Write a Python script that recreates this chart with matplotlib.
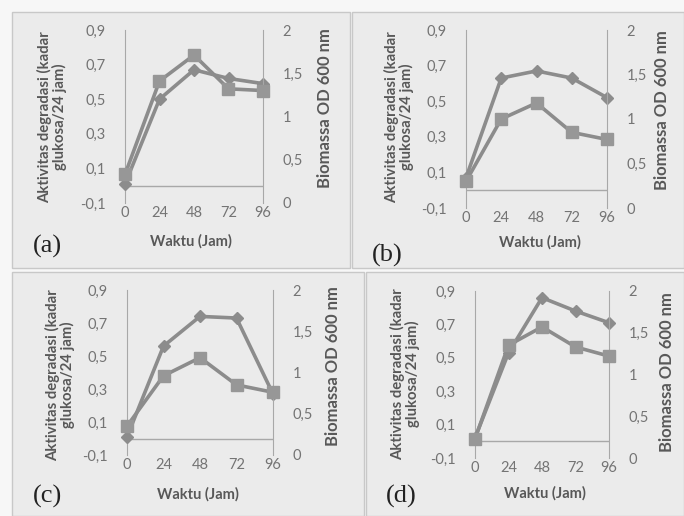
import matplotlib
matplotlib.use("Agg")
import matplotlib.pyplot as plt
from matplotlib.patches import Rectangle

plt.rcParams['font.family'] = ['Lato', 'DejaVu Sans']

waktu = [0, 24, 48, 72, 96]
x_ticks = [0, 24, 48, 72, 96]
left_ticks = [-0.1, 0.1, 0.3, 0.5, 0.7, 0.9]
left_labels = ["-0,1", "0,1", "0,3", "0,5", "0,7", "0,9"]
right_ticks = [0, 0.5, 1, 1.5, 2]
right_labels = ["0", "0,5", "1", "1,5", "2"]

# Aktivitas degradasi (left axis, diamond markers)
aktivitas_a = [0.01, 0.50, 0.67, 0.62, 0.59]
aktivitas_b = [0.07, 0.63, 0.67, 0.63, 0.52]
aktivitas_c = [0.01, 0.56, 0.74, 0.73, 0.27]
aktivitas_d = [0.02, 0.53, 0.86, 0.78, 0.71]
# Biomassa OD 600 nm (right axis, square markers)
biomassa_a = [0.33, 1.41, 1.71, 1.32, 1.30]
biomassa_b = [0.30, 1.00, 1.18, 0.85, 0.77]
biomassa_c = [0.35, 0.96, 1.18, 0.85, 0.76]
biomassa_d = [0.23, 1.35, 1.57, 1.33, 1.22]

panel_letters = ["(a)", "(b)", "(c)", "(d)"]
ylabel_left = "Aktivitas degradasi (kadar\nglukosa/24 jam)"
ylabel_right = "Biomassa OD 600 nm"
xlabel = "Waktu (Jam)"

W, H = 684, 516
fig = plt.figure(figsize=(6.84, 5.16), dpi=100)
fig.patch.set_facecolor("#f7f7f7")

def px_rect(x0, y0, x1, y1):
    return [x0 / W, 1 - y1 / H, (x1 - x0) / W, (y1 - y0) / H]

def ftxt(x, y, s, **kw):
    fig.text(x / W, 1 - y / H, s, **kw)

# panel backgrounds
boxes = [(12, 12, 350, 268), (352, 12, 684, 268), (12, 272, 364, 516), (366, 272, 684, 516)]
for (x0, y0, x1, y1) in boxes:
    fig.patches.append(Rectangle((x0 / W, 1 - y1 / H), (x1 - x0) / W, (y1 - y0) / H,
                                 transform=fig.transFigure, facecolor="#ebebeb",
                                 edgecolor="#c8c8c8", lw=1.0, zorder=-5))

axes_px = [(125, 30, 263, 203), (466, 30, 607, 208), (127, 290, 273, 455), (475, 291, 609, 458)]
letter_px = [(33, 246), (372, 255), (33, 496), (386, 496)]
left_lab_px = [(52, 117), (399, 117), (60, 375), (405, 374)]
right_lab_px = [(325, 108), (662, 110), (333, 366), (667, 372)]
x_lab_px = [(191, 241), (540, 242), (198, 494), (545, 493)]
data = [(aktivitas_a, biomassa_a), (aktivitas_b, biomassa_b),
        (aktivitas_c, biomassa_c), (aktivitas_d, biomassa_d)]

line_col = "#8c8c8c"
tick_col = "#747474"
lab_col = "#585858"

for i, ((x0, y0, x1, y1), (akt, bio)) in enumerate(zip(axes_px, data)):
    ax = fig.add_axes(px_rect(x0, y0, x1, y1))
    ax.set_zorder(2)
    ax.patch.set_alpha(0)
    ax2 = ax.twinx()
    ax2.set_zorder(3)
    ax2.patch.set_alpha(0)
    ax.set_xlim(0, 96)
    ax.set_ylim(-0.1, 0.9)
    ax2.set_ylim(0, 2)
    ax.set_xticks(x_ticks)
    ax.set_xticklabels([str(v) for v in x_ticks])
    ax.set_yticks(left_ticks)
    ax.set_yticklabels(left_labels)
    ax2.set_yticks(right_ticks)
    ax2.set_yticklabels(right_labels)
    for a in (ax, ax2):
        a.tick_params(labelsize=10.5, colors=tick_col, length=0, pad=14)
        for s in a.spines.values():
            s.set_visible(False)
    ax.tick_params(axis='x', pad=2)
    ax.spines['left'].set_visible(True)
    ax.spines['left'].set_color("#a8a8a8")
    ax2.spines['right'].set_visible(True)
    ax2.spines['right'].set_color("#a8a8a8")
    ax.axhline(0, color="#a8a8a8", lw=1.0, zorder=1)
    ax.plot(waktu, akt, color=line_col, lw=2.6, marker='D', ms=6.5,
            mfc=line_col, mec=line_col, clip_on=False, zorder=3)
    ax2.plot(waktu, bio, color=line_col, lw=2.6, marker='s', ms=8.5,
             mfc="#979797", mec="#979797", clip_on=False, zorder=3)
    lx, ly = left_lab_px[i]
    ftxt(lx, ly, ylabel_left, rotation=90, fontsize=10.7, fontweight='bold',
         color=lab_col, ha='center', va='center', linespacing=1.0)
    rx, ry = right_lab_px[i]
    ftxt(rx, ry, ylabel_right, rotation=90, fontsize=12, fontweight='bold',
         color=lab_col, ha='center', va='center')
    xx, xy = x_lab_px[i]
    ftxt(xx, xy, xlabel, fontsize=10.5, fontweight='bold', color=lab_col,
         ha='center', va='center')
    px, py = letter_px[i]
    ftxt(px, py, panel_letters[i], fontsize=19, family='Liberation Serif',
         color="#222222", va='center', ha='left')

fig.savefig("out.png", dpi=100, facecolor=fig.get_facecolor())
